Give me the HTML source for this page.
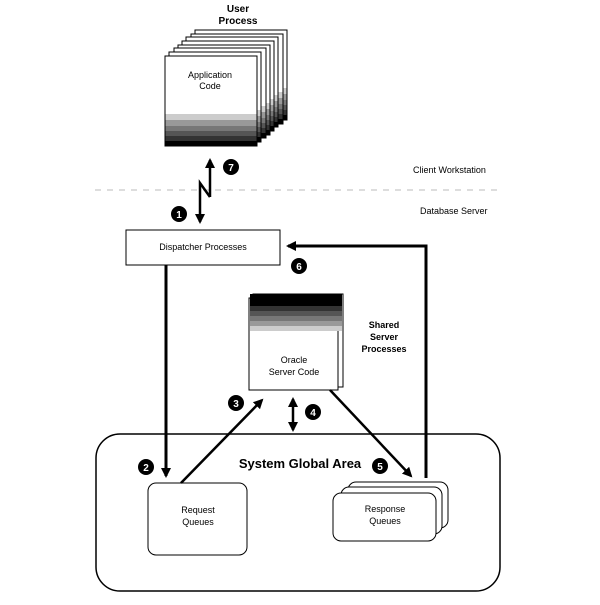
<!DOCTYPE html>
<html><head><style>body{margin:0;background:#fff}svg text{font-family:"Liberation Sans",sans-serif}</style></head>
<body>
<svg width="600" height="600" viewBox="0 0 600 600" xmlns="http://www.w3.org/2000/svg">
<defs>
<marker id="ah" markerWidth="10" markerHeight="10" refX="8" refY="5" orient="auto" markerUnits="userSpaceOnUse"><path d="M0,0 L10,5 L0,10 z" fill="#000"/></marker>
<g id="pg">
<rect x="0" y="0" width="92" height="90" fill="#fff" stroke="#000" stroke-width="1"/>
<rect x="0.5" y="58" width="91" height="6" fill="#ccc"/>
<rect x="0.5" y="64" width="91" height="6" fill="#999"/>
<rect x="0.5" y="70" width="91" height="5" fill="#777"/>
<rect x="0.5" y="75" width="91" height="5" fill="#555"/>
<rect x="0.5" y="80" width="91" height="5" fill="#333"/>
<rect x="0.5" y="85" width="91" height="5" fill="#000"/>
</g>
</defs>
<text x="238" y="12" font-size="10" font-weight="bold" text-anchor="middle">User</text>
<text x="238" y="24" font-size="10" font-weight="bold" text-anchor="middle">Process</text>
<use href="#pg" x="195" y="30"/>
<use href="#pg" x="191" y="34"/>
<use href="#pg" x="186" y="37"/>
<use href="#pg" x="182" y="41"/>
<use href="#pg" x="178" y="45"/>
<use href="#pg" x="174" y="48"/>
<use href="#pg" x="169" y="52"/>
<use href="#pg" x="165" y="56"/>
<text x="210" y="78" font-size="9" text-anchor="middle">Application</text>
<text x="210" y="89" font-size="9" text-anchor="middle">Code</text>

<line x1="95" y1="190" x2="500" y2="190" stroke="#bbb" stroke-dasharray="6,6"/>
<text x="413" y="173" font-size="9">Client Workstation</text>
<text x="420" y="214" font-size="9">Database Server</text>

<path d="M210,197 L210,160" stroke="#000" stroke-width="2.5" fill="none" marker-end="url(#ah)"/>
<path d="M210,197 L200,183 L200,222" stroke="#000" stroke-width="2.5" fill="none" marker-end="url(#ah)"/>
<circle cx="231" cy="167" r="8"/><text x="231" y="171" font-size="10" font-weight="bold" fill="#fff" text-anchor="middle">7</text>
<circle cx="179" cy="214" r="8"/><text x="179" y="218" font-size="10" font-weight="bold" fill="#fff" text-anchor="middle">1</text>

<rect x="126" y="230" width="154" height="35" fill="#fff" stroke="#000"/>
<text x="203" y="250" font-size="9" text-anchor="middle">Dispatcher Processes</text>

<path d="M166,265 L166,476" stroke="#000" stroke-width="3" fill="none" marker-end="url(#ah)"/>
<path d="M426,478 L426,246 L288,246" stroke="#000" stroke-width="3" fill="none" marker-end="url(#ah)"/>
<circle cx="299" cy="266" r="8"/><text x="299" y="270" font-size="10" font-weight="bold" fill="#fff" text-anchor="middle">6</text>

<rect x="96" y="434" width="404" height="157" rx="24" fill="none" stroke="#000" stroke-width="1.5"/>
<text x="300" y="468" font-size="13" font-weight="bold" text-anchor="middle">System Global Area</text>

<rect x="253" y="294" width="90" height="93" fill="#fff" stroke="#000"/>
<rect x="249" y="298" width="89" height="92" fill="#fff" stroke="#000"/>
<rect x="250" y="294" width="92" height="12" fill="#000"/>
<rect x="250" y="306" width="92" height="5" fill="#333"/>
<rect x="250" y="311" width="92" height="5" fill="#555"/>
<rect x="250" y="316" width="92" height="5" fill="#777"/>
<rect x="250" y="321" width="92" height="5" fill="#999"/>
<rect x="250" y="326" width="92" height="5" fill="#ccc"/>
<line x1="338" y1="331" x2="338" y2="390" stroke="#000"/>
<text x="294" y="363" font-size="9" text-anchor="middle">Oracle</text>
<text x="294" y="375" font-size="9" text-anchor="middle">Server Code</text>
<text x="384" y="328" font-size="9" font-weight="bold" text-anchor="middle">Shared</text>
<text x="384" y="340" font-size="9" font-weight="bold" text-anchor="middle">Server</text>
<text x="384" y="352" font-size="9" font-weight="bold" text-anchor="middle">Processes</text>

<rect x="148" y="483" width="99" height="72" rx="8" fill="#fff" stroke="#000"/>
<text x="198" y="513" font-size="9" text-anchor="middle">Request</text>
<text x="198" y="525" font-size="9" text-anchor="middle">Queues</text>

<rect x="348" y="482" width="100" height="46" rx="8" fill="#fff" stroke="#000"/>
<rect x="341" y="487" width="101" height="47" rx="8" fill="#fff" stroke="#000"/>
<rect x="333" y="493" width="103" height="48" rx="8" fill="#fff" stroke="#000"/>
<text x="385" y="512" font-size="9" text-anchor="middle">Response</text>
<text x="385" y="524" font-size="9" text-anchor="middle">Queues</text>

<path d="M181,483 L262,400" stroke="#000" stroke-width="2.5" fill="none" marker-end="url(#ah)"/>
<circle cx="236" cy="403" r="8"/><text x="236" y="407" font-size="10" font-weight="bold" fill="#fff" text-anchor="middle">3</text>
<path d="M293,414 L293,399" stroke="#000" stroke-width="2.5" fill="none" marker-end="url(#ah)"/>
<path d="M293,414 L293,430" stroke="#000" stroke-width="2.5" fill="none" marker-end="url(#ah)"/>
<circle cx="313" cy="412" r="8"/><text x="313" y="416" font-size="10" font-weight="bold" fill="#fff" text-anchor="middle">4</text>
<path d="M330,390 L411,476" stroke="#000" stroke-width="2.5" fill="none" marker-end="url(#ah)"/>
<circle cx="380" cy="466" r="8"/><text x="380" y="470" font-size="10" font-weight="bold" fill="#fff" text-anchor="middle">5</text>
<circle cx="146" cy="467" r="8"/><text x="146" y="471" font-size="10" font-weight="bold" fill="#fff" text-anchor="middle">2</text>
</svg>
</body></html>
